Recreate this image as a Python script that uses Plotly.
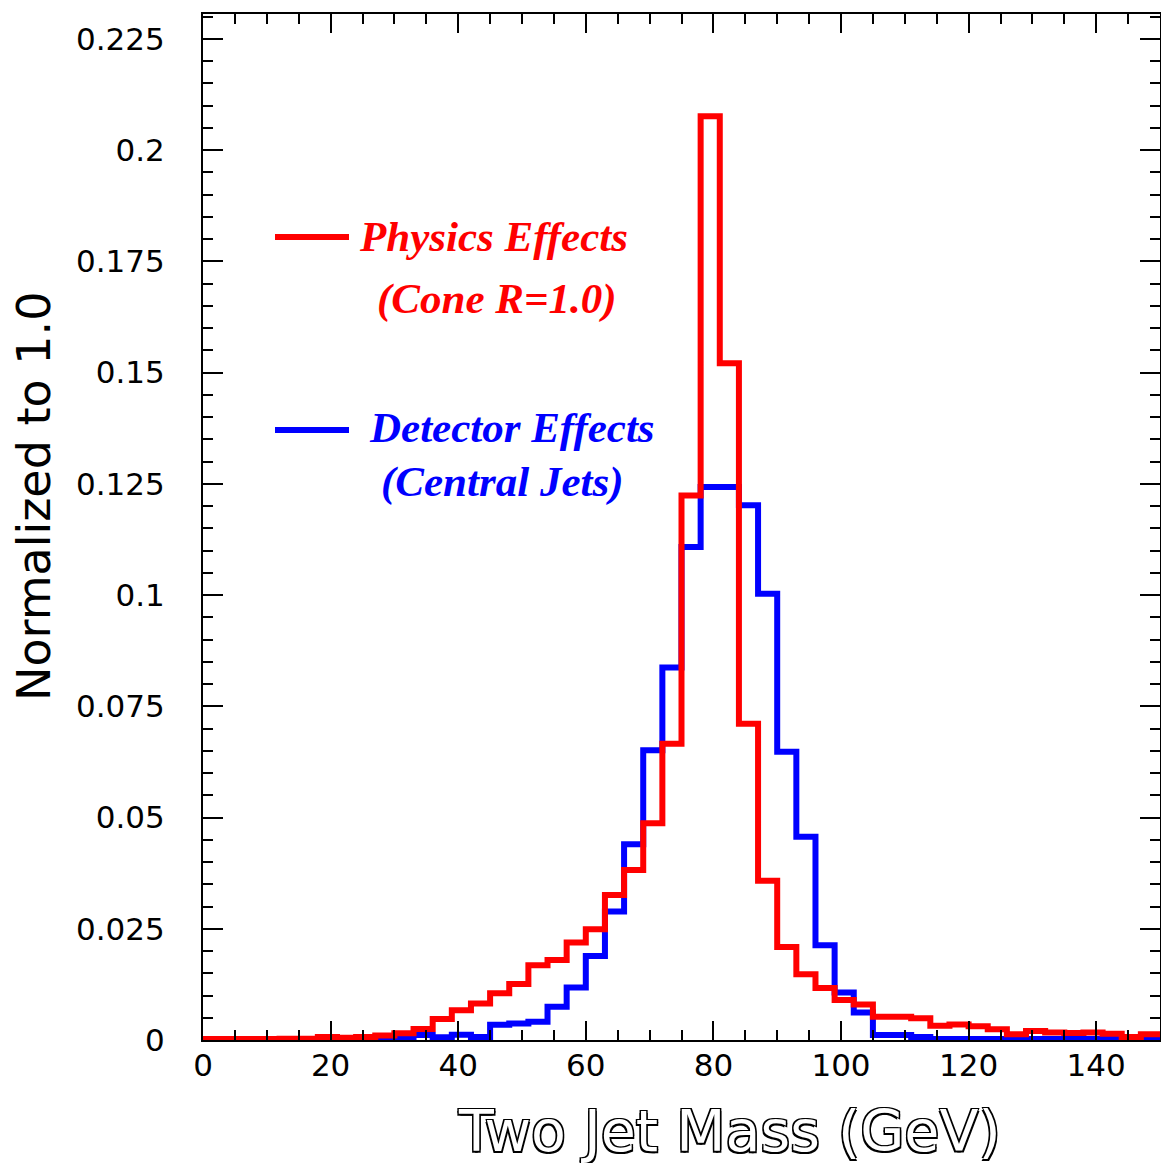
import numpy as np
import plotly.graph_objects as go

# Two-jet invariant mass histograms, 3 GeV bins from 0 to 150 GeV
bin_width = 3.0
bin_edges = np.arange(0.0, 150.0 + bin_width, bin_width)

physics_effects = [
    0.0002, 0.0002, 0.0002, 0.0002, 0.0003, 0.0003, 0.0007, 0.0005, 0.0007, 0.0010,
    0.0015, 0.0025, 0.0047, 0.0067, 0.0082, 0.0105, 0.0126, 0.0168, 0.0180, 0.0219,
    0.0249, 0.0326, 0.0382, 0.0487, 0.0666, 0.1224, 0.2076, 0.1521, 0.0711, 0.0358,
    0.0209, 0.0148, 0.0117, 0.0090, 0.0080, 0.0052, 0.0052, 0.0049, 0.0032, 0.0035,
    0.0031, 0.0024, 0.0013, 0.0020, 0.0017, 0.0016, 0.0017, 0.0014, 0.0007, 0.0013,
]

detector_effects = [
    0.0000, 0.0000, 0.0000, 0.0000, 0.0000, 0.0000, 0.0000, 0.0000, 0.0001, 0.0002,
    0.0004, 0.0011, 0.0006, 0.0012, 0.0007, 0.0034, 0.0037, 0.0041, 0.0075, 0.0118,
    0.0189, 0.0289, 0.0440, 0.0651, 0.0837, 0.1108, 0.1243, 0.1243, 0.1202, 0.1003,
    0.0648, 0.0457, 0.0213, 0.0107, 0.0062, 0.0011, 0.0011, 0.0007, 0.0002, 0.0002,
    0.0002, 0.0002, 0.0002, 0.0002, 0.0002, 0.0002, 0.0002, 0.0002, 0.0002, 0.0002,
]

x_tick_values = [0, 20, 40, 60, 80, 100, 120, 140]
y_tick_values = [0, 0.025, 0.05, 0.075, 0.1, 0.125, 0.15, 0.175, 0.2, 0.225]
y_tick_labels = ["0", "0.025", "0.05", "0.075", "0.1", "0.125", "0.15", "0.175", "0.2", "0.225"]

x_title = "Two Jet Mass (GeV)"
y_title = "Normalized to 1.0"

RED = "#ff0000"
BLUE = "#0000ff"
LINE_W = 6


def step_trace(values, color, name):
    # repeat the last bin so the final step reaches the upper edge
    y = list(values) + [values[-1]]
    return go.Scatter(
        x=bin_edges, y=y, mode="lines", name=name,
        line=dict(color=color, width=LINE_W, shape="hv"),
        showlegend=False, hoverinfo="skip",
    )


fig = go.Figure()
fig.add_trace(step_trace(detector_effects, BLUE, "Detector Effects"))
fig.add_trace(step_trace(physics_effects, RED, "Physics Effects"))

tick_font = dict(family="DejaVu Sans", size=31, color="black")

fig.update_xaxes(
    range=[0, 150], tickvals=x_tick_values, ticktext=[str(v) for v in x_tick_values],
    ticks="inside", ticklen=19, tickwidth=1.5, tickcolor="black",
    minor=dict(dtick=5, tick0=0, ticks="inside", ticklen=10, tickwidth=1.5, tickcolor="black"),
    showline=True, linecolor="black", linewidth=2, mirror="ticks",
    showgrid=False, zeroline=False, tickfont=tick_font, ticklabelstandoff=-3,
)
fig.update_yaxes(
    range=[0, 0.2306], tickvals=y_tick_values, ticktext=y_tick_labels,
    ticks="inside", ticklen=20, tickwidth=1.5, tickcolor="black",
    minor=dict(dtick=0.005, tick0=0, ticks="inside", ticklen=10, tickwidth=1.5, tickcolor="black"),
    showline=True, linecolor="black", linewidth=2, mirror="ticks",
    showgrid=False, zeroline=False, tickfont=tick_font, ticklabelstandoff=30,
)

# Plot-area geometry in pixels, used to place the titles and the hand-made key
L, R, T, B = 203, 1160, 14, 1040


def px(xp):
    return (xp - L) / (R - L)


def py(yp):
    return (B - yp) / (B - T)


# Axis titles: hollow lettering under the x axis, plain rotated text at the left
fig.add_annotation(
    text=x_title, xref="paper", yref="paper", x=px(729), y=py(1131),
    xanchor="center", yanchor="middle", showarrow=False,
    font=dict(family="DejaVu Sans", size=57, color="white",
              shadow="1.5px 1.5px 0 #000, -1.5px -1.5px 0 #000, 1.5px -1.5px 0 #000, -1.5px 1.5px 0 #000"),
)
fig.add_annotation(
    text=y_title, xref="paper", yref="paper", x=px(34), y=py(497), textangle=-90,
    xanchor="center", yanchor="middle", showarrow=False,
    font=dict(family="DejaVu Sans", size=46, color="black"),
)

key_font = dict(family="Liberation Serif", size=43, weight="bold", style="italic")

for color, y_line in ((RED, 237), (BLUE, 430)):
    fig.add_shape(type="line", xref="paper", yref="paper",
                  x0=px(275), x1=px(349), y0=py(y_line), y1=py(y_line),
                  line=dict(color=color, width=LINE_W))

key_texts = [
    ("Physics Effects", RED, 357, 236),
    ("(Cone R=1.0)", RED, 375, 299),
    ("Detector Effects", BLUE, 367, 427),
    ("(Central Jets)", BLUE, 379, 482),
]
for text, color, xp, yp in key_texts:
    fig.add_annotation(text=text, xref="paper", yref="paper", x=px(xp), y=py(yp),
                       xanchor="left", yanchor="middle", showarrow=False,
                       font=dict(color=color, **key_font))

fig.update_layout(
    width=1161, height=1163,
    margin=dict(l=L, r=1161 - R, t=T, b=1163 - B, autoexpand=False),
    paper_bgcolor="white", plot_bgcolor="white",
)

fig.write_html("out.html")
